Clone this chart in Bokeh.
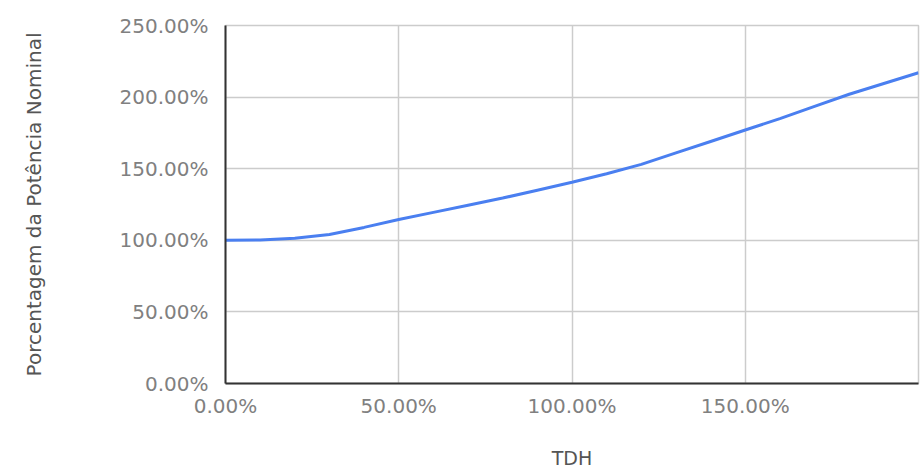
from bokeh.plotting import figure
from bokeh.models import FixedTicker, PrintfTickFormatter, Range1d
from bokeh.embed import file_html
from bokeh.resources import INLINE

# THD (%) and percentage of nominal power (%)
thd = [0, 10, 20, 30, 40, 50, 60, 70, 80, 90, 100, 110, 120, 130, 140, 150, 160, 170, 180, 190, 200]
power = [100, 100.2, 101.5, 104, 109, 114.5, 119.5, 124.5, 129.5, 135, 140.5, 146.5, 153, 161, 169, 177, 185, 193.5, 202, 209.5, 217]

x_ticks = [0, 50, 100, 150]
y_ticks = [0, 50, 100, 150, 200, 250]

p = figure(frame_width=693, frame_height=358, output_backend="svg", toolbar_location=None,
           x_range=Range1d(0, 200), y_range=Range1d(0, 250),
           min_border_left=225, min_border_top=25, min_border_right=2)

p.line(thd, power, line_color="#4a7ff0", line_width=3)

FONT = "DejaVu Sans"
for ax in (p.xaxis[0], p.yaxis[0]):
    ax.formatter = PrintfTickFormatter(format="%.2f%%")
    ax.major_tick_line_color = None
    ax.minor_tick_line_color = None
    ax.major_tick_out = 0
    ax.major_tick_in = 0
    ax.axis_line_color = "#333333"
    ax.axis_line_width = 2
    ax.major_label_text_font = FONT
    ax.major_label_text_font_size = "20px"
    ax.major_label_text_color = "#808080"
    ax.axis_label_text_font = FONT
    ax.axis_label_text_font_style = "normal"
    ax.axis_label_text_color = "#555555"

p.xaxis.ticker = FixedTicker(ticks=x_ticks)
p.yaxis.ticker = FixedTicker(ticks=y_ticks)
p.xaxis.major_label_standoff = 10
p.yaxis.major_label_standoff = 17
p.xaxis.axis_label = "TDH"
p.yaxis.axis_label = "Porcentagem da Potência Nominal"
p.xaxis.axis_label_text_font_size = "19px"
p.yaxis.axis_label_text_font_size = "20px"
p.xaxis.axis_label_standoff = 26
p.yaxis.axis_label_standoff = 71

p.xgrid.ticker = FixedTicker(ticks=x_ticks)
p.ygrid.ticker = FixedTicker(ticks=y_ticks)
p.grid.grid_line_color = "#cccccc"
p.grid.grid_line_width = 1.5
p.outline_line_color = "#cccccc"
p.outline_line_width = 1.5
p.background_fill_color = "white"
p.border_fill_color = "white"

open("out.html", "w").write(file_html(p, INLINE))
